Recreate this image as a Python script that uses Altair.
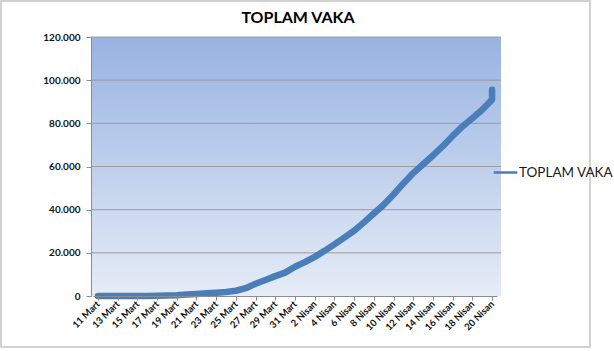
import altair as alt
import pandas as pd

# ---- data ----
dates = ["11 Mart", "12 Mart", "13 Mart", "14 Mart", "15 Mart", "16 Mart", "17 Mart",
         "18 Mart", "19 Mart", "20 Mart", "21 Mart", "22 Mart", "23 Mart", "24 Mart",
         "25 Mart", "26 Mart", "27 Mart", "28 Mart", "29 Mart", "30 Mart", "31 Mart",
         "1 Nisan", "2 Nisan", "3 Nisan", "4 Nisan", "5 Nisan", "6 Nisan", "7 Nisan",
         "8 Nisan", "9 Nisan", "10 Nisan", "11 Nisan", "12 Nisan", "13 Nisan", "14 Nisan",
         "15 Nisan", "16 Nisan", "17 Nisan", "18 Nisan", "19 Nisan", "20 Nisan", "20 Nisan"]
cases = [1, 1, 5, 6, 18, 47, 98, 191, 359, 670, 947, 1236, 1529, 1872, 2433, 3629,
         5698, 7402, 9217, 10827, 13531,
         15679, 18135, 20921, 23934, 27069, 30217, 34109, 38226, 42282, 47029, 52167,
         56956, 61049, 65111, 69392, 74193, 78546, 82329, 86306, 90980, 95591]
series_name = "TOPLAM VAKA"
chart_title = "TOPLAM VAKA"
tick_labels = ["11 Mart", "13 Mart", "15 Mart", "17 Mart", "19 Mart", "21 Mart",
               "23 Mart", "25 Mart", "27 Mart", "29 Mart", "31 Mart", "2 Nisan",
               "4 Nisan", "6 Nisan", "8 Nisan", "10 Nisan", "12 Nisan", "14 Nisan",
               "16 Nisan", "18 Nisan", "20 Nisan"]
y_ticks = [0, 20000, 40000, 60000, 80000, 100000, 120000]

domain = list(dict.fromkeys(dates))
df = pd.DataFrame({"tarih": dates, "vaka": cases, "sira": list(range(len(dates))),
                   "seri": [series_name] * len(dates)})
grid_df = pd.DataFrame({"g": y_ticks[1:]})
one = pd.DataFrame({"t": [chart_title]})

W, H = 410, 259
FONT = "Lato"

frame = alt.Chart(one).mark_rect(
    fill="white", stroke="#c4c4c4", strokeWidth=1.5
).encode(x=alt.value(-90), x2=alt.value(499), y=alt.value(-36), y2=alt.value(310))

bg = alt.Chart(one).mark_rect(
    color=alt.Gradient(
        gradient="linear",
        stops=[alt.GradientStop(color="#98b3e1", offset=0),
               alt.GradientStop(color="#e6ecf7", offset=1)],
        x1=0, x2=0, y1=0, y2=1,
    )
).encode(x=alt.value(0), x2=alt.value(W), y=alt.value(0), y2=alt.value(H))

title = alt.Chart(one).mark_text(
    font=FONT, fontSize=16, fontWeight="bold", color="#000000",
    align="center", baseline="middle"
).encode(text="t:N", x=alt.value(W / 2 + 2), y=alt.value(-19))

grid = alt.Chart(grid_df).mark_rule(color="#9c9c9c", strokeWidth=1).encode(
    y=alt.Y("g:Q", scale=alt.Scale(domain=[0, 120000], nice=False))
)

line = alt.Chart(df).mark_line(strokeWidth=6.5, strokeCap="round", strokeJoin="round").encode(
    x=alt.X("tarih:O", sort=domain,
            scale=alt.Scale(type="point", domain=domain, range=[2, 406]),
            axis=alt.Axis(title=None, values=tick_labels, labelAngle=-45,
                          labelAlign="right", labelBaseline="middle",
                          labelFont=FONT, labelFontSize=9.5, labelFontWeight="bold",
                          labelColor="#111111", labelPadding=2,
                          tickSize=4, tickColor="#8c8c8c",
                          domainColor="#8c8c8c", grid=False, zindex=1)),
    y=alt.Y("vaka:Q", scale=alt.Scale(domain=[0, 120000], nice=False),
            axis=alt.Axis(title=None, values=y_ticks,
                          labelExpr="replace(format(datum.value, ','), ',', '.')",
                          labelFont=FONT, labelFontSize=10, labelFontWeight="bold",
                          labelColor="#111111", labelPadding=6,
                          tickSize=5, tickColor="#8c8c8c",
                          domainColor="#8c8c8c", grid=False, zindex=1)),
    order=alt.Order("sira:Q"),
    color=alt.Color("seri:N", scale=alt.Scale(range=["#4a7ebb"]),
                    legend=alt.Legend(title=None, orient="none", legendX=401, legendY=122,
                                      symbolType="stroke", symbolSize=560,
                                      symbolStrokeWidth=2.5, labelFont=FONT,
                                      labelFontSize=13.5, labelColor="#1a1a1a",
                                      labelOffset=0, padding=0)),
)

chart = alt.layer(frame, bg, grid, line, title).properties(
    width=W, height=H,
    autosize=alt.AutoSizeParams(type="none"),
    padding={"left": 91, "top": 37, "right": 113, "bottom": 55},
    background="white",
).configure_view(stroke=None)

chart.save("out.html", embed_options={"renderer": "svg", "actions": False})
